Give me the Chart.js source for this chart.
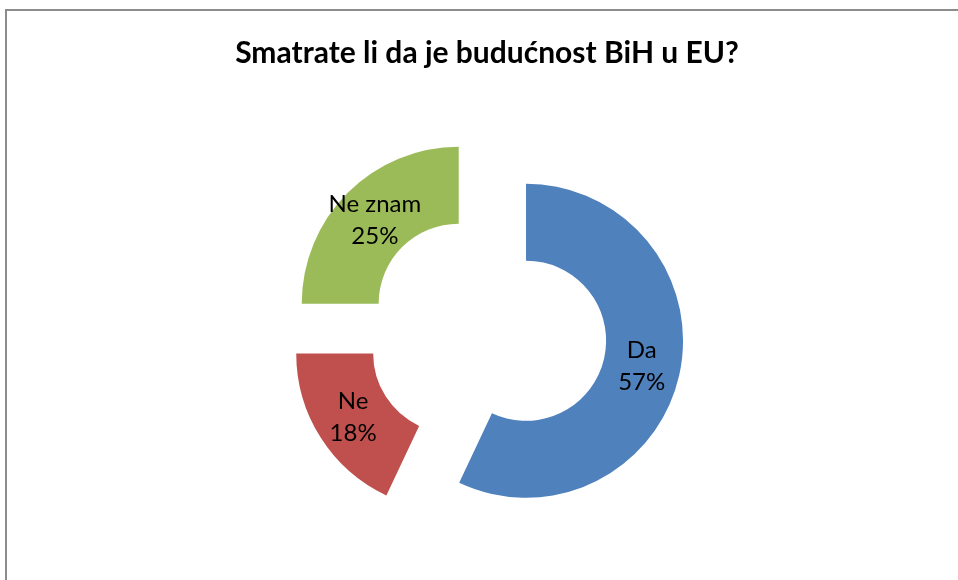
<!DOCTYPE html>
<html>
<head>
<meta charset="utf-8">
<script src="https://cdn.jsdelivr.net/npm/chart.js@4/dist/chart.umd.min.js"></script>
<style>
  html, body { margin: 0; padding: 0; background: #fff; }
  canvas { display: block; }
</style>
</head>
<body>
<canvas id="c" width="958" height="580"></canvas>
<script>
// ---- data ----
const categories = ["Da", "Ne", "Ne znam"];
const values = [57, 18, 25];
const titleText = "Smatrate li da je budućnost BiH u EU?";

// ---- styles ----
const colors = ["#4F81BD", "#C0504D", "#9BBB59"];
const EXPLODE = 40;

const frame = {
  id: 'frame',
  beforeDraw(chart) {
    const ctx = chart.ctx;
    ctx.save();
    ctx.fillStyle = '#ffffff';
    ctx.fillRect(0, 0, chart.width, chart.height);
    ctx.strokeStyle = '#8c8c8c';
    ctx.lineWidth = 2;
    ctx.beginPath();
    ctx.moveTo(6, chart.height);
    ctx.lineTo(6, 10);
    ctx.lineTo(chart.width, 10);
    ctx.stroke();
    ctx.restore();
  }
};

const explode = {
  id: 'explode',
  beforeDatasetDraw(chart, args) {
    const ctx = chart.ctx;
    args.meta.data.forEach((arc) => {
      const mid = (arc.startAngle + arc.endAngle) / 2;
      ctx.save();
      ctx.translate(Math.cos(mid) * EXPLODE, Math.sin(mid) * EXPLODE);
      arc.draw(ctx, chart.chartArea);
      ctx.restore();
    });
    return false;
  },
  afterDraw(chart) {
    const ctx = chart.ctx;
    const meta = chart.getDatasetMeta(0);
    const total = values.reduce((a, b) => a + b, 0);
    ctx.save();
    ctx.fillStyle = '#000';
    ctx.font = '24px Lato';
    ctx.textAlign = 'center';
    ctx.textBaseline = 'middle';
    meta.data.forEach((arc, i) => {
      const mid = (arc.startAngle + arc.endAngle) / 2;
      const r = (arc.innerRadius + arc.outerRadius) / 2 + EXPLODE;
      const x = arc.x + Math.cos(mid) * r;
      const y = arc.y + Math.sin(mid) * r;
      const pct = Math.round(values[i] / total * 100) + '%';
      ctx.fillText(categories[i], x, y - 16);
      ctx.fillText(pct, x, y + 16);
    });
    ctx.restore();
  }
};

new Chart(document.getElementById('c'), {
  type: 'doughnut',
  data: {
    labels: categories,
    datasets: [{
      data: values,
      backgroundColor: colors,
      borderWidth: 0
    }]
  },
  options: {
    responsive: false,
    animation: false,
    radius: 157,
    cutout: '51%',
    layout: { padding: { left: 16, right: 0, top: 0, bottom: 0 } },
    plugins: {
      legend: { display: false },
      tooltip: { enabled: false },
      title: {
        display: true,
        text: titleText,
        color: '#000',
        font: { family: 'Lato', size: 30, weight: 'bold' },
        padding: { top: 35.5, bottom: 12.5 }
      }
    }
  },
  plugins: [frame, explode]
});
</script>
</body>
</html>
